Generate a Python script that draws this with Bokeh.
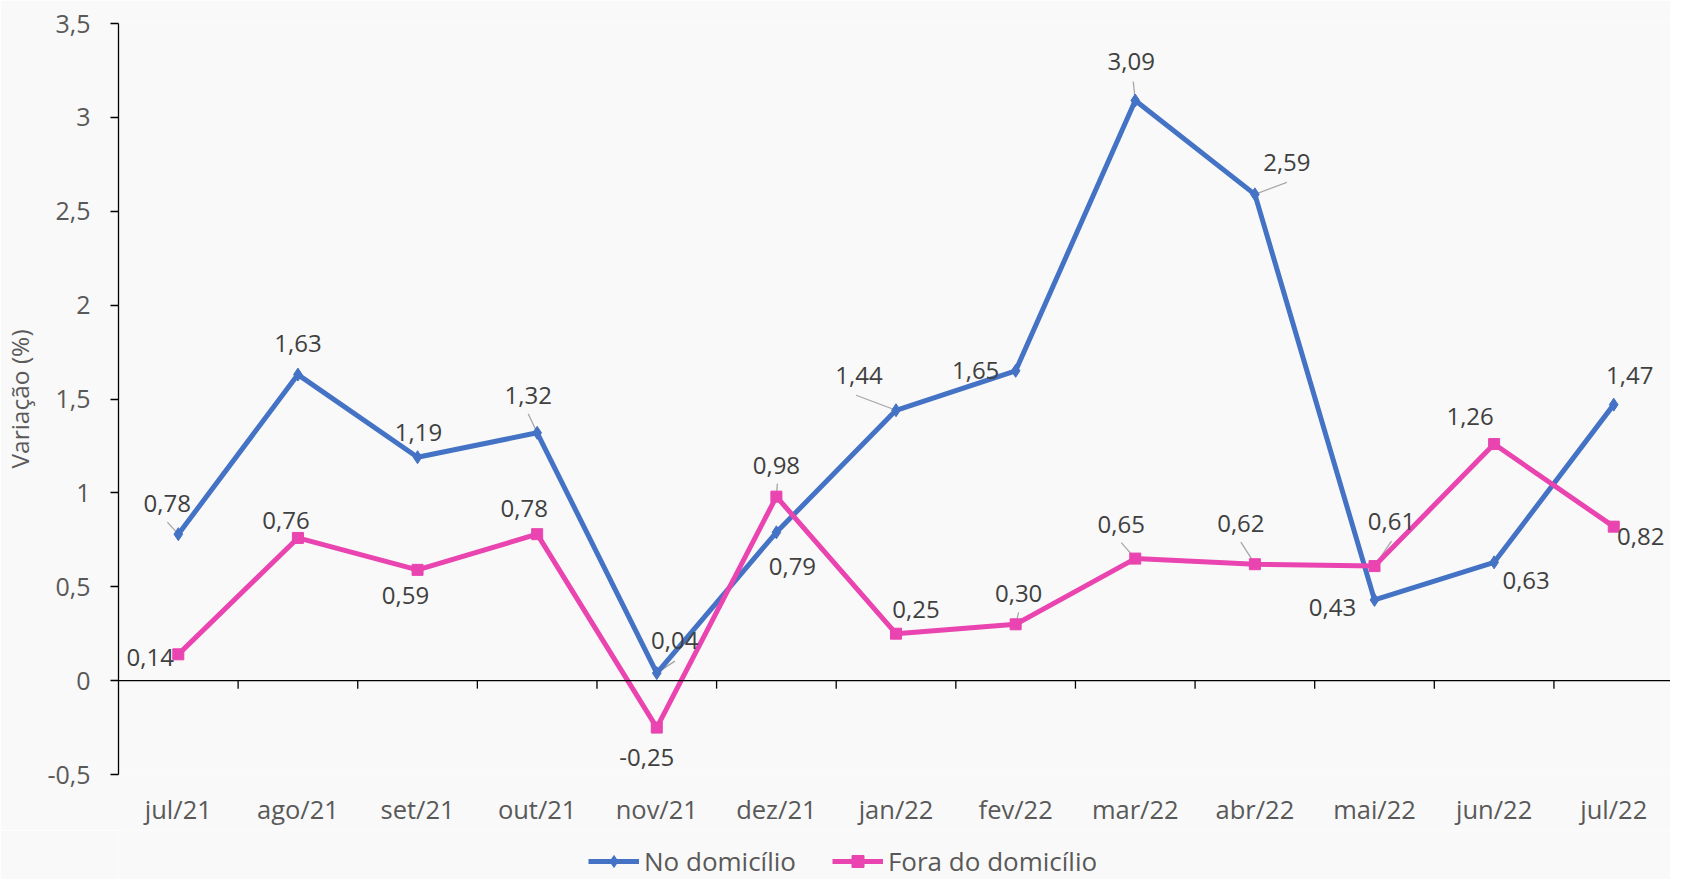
from bokeh.plotting import figure
from bokeh.layouts import column
from bokeh.models import (Range1d, LinearAxis, FixedTicker, Span, Legend, LegendItem,
                          ColumnDataSource)
from bokeh.core.properties import value
from bokeh.embed import file_html
from bokeh.resources import INLINE

# ---------------- data ----------------
months = ["jul/21", "ago/21", "set/21", "out/21", "nov/21", "dez/21", "jan/22",
          "fev/22", "mar/22", "abr/22", "mai/22", "jun/22", "jul/22"]
no_domicilio = [0.78, 1.63, 1.19, 1.32, 0.04, 0.79, 1.44, 1.65, 3.09, 2.59, 0.43, 0.63, 1.47]
fora_domicilio = [0.14, 0.76, 0.59, 0.78, -0.25, 0.98, 0.25, 0.30, 0.65, 0.62, 0.61, 1.26, 0.82]
y_ticks = [-0.5, 0, 0.5, 1, 1.5, 2, 2.5, 3, 3.5]
series_names = ["No domicílio", "Fora do domicílio"]

# label placement (pixels, x right / y up, relative to point)
blue_lbl_dx = [-11, 0, 1, -9, 18, 16, -37, -40, -4, 32, -42, 32, 16]
blue_lbl_dy = [31, 31, 25, 37, 33, -34, 35, 0, 39, 32, -8, -18, 29]
blue_lead = {0: (-11, 12), 3: (-9, 19), 4: (18, 12), 6: (-40, 15), 8: (-2, 19), 9: (32, 12)}
pink_lbl_dx = [-28, -12, -12, -13, -10, 0, 20, 3, -14, -14, 17, -24, 27]
pink_lbl_dy = [-3, 17, -26, 26, -30, 31, 24, 31, 34, 41, 45, 28, -10]
pink_lead = {5: (1, 13), 7: (3, 12), 8: (-14, 16), 9: (-14, 22), 10: (17, 25)}

# ---------------- layout ----------------
FIG_W = 1670
MAIN_H, LEG_H = 830, 49
BORDER_L, BORDER_T, BORDER_B = 115, 23, 56
FRAME_W = FIG_W - BORDER_L
FRAME_H = MAIN_H - BORDER_T - BORDER_B
CAT_PX = 119.85
X_END = FRAME_W / CAT_PX
Y0, Y1 = -0.5, 3.5
PX_X = CAT_PX
PX_Y = FRAME_H / (Y1 - Y0)

BLUE = "#4472C4"
PINK = "#E944AF"
BG = "#F9F9F9"
FONT = "Open Sans"
TICK_COL = "#595959"
LBL_COL = "#404040"

p = figure(width=FIG_W, height=MAIN_H, output_backend="svg", toolbar_location=None,
           x_range=Range1d(0, X_END), y_range=Range1d(Y0, Y1),
           x_axis_location=None, y_axis_location=None,
           min_border_left=BORDER_L, min_border_right=0, min_border_top=BORDER_T,
           min_border_bottom=BORDER_B)
p.background_fill_color = BG
p.border_fill_color = BG
p.outline_line_color = None
p.xgrid.visible = False
p.ygrid.visible = False

xs = [i + 0.5 for i in range(len(months))]

# y axis
yax = LinearAxis(ticker=FixedTicker(ticks=y_ticks))
yax.major_label_overrides = {t: (f"{t:g}".replace(".", ",")) for t in y_ticks}
yax.axis_label = "Variação (%)"
yax.axis_label_text_font = FONT
yax.axis_label_text_font_size = "24.5px"
yax.axis_label_text_font_style = "normal"
yax.axis_label_text_color = TICK_COL
yax.axis_label_standoff = 8
yax.major_label_text_font = FONT
yax.major_label_text_font_size = "25px"
yax.major_label_text_color = TICK_COL
yax.major_label_standoff = 20
yax.axis_line_color = "black"
yax.axis_line_width = 1.3
yax.major_tick_line_color = "black"
yax.major_tick_line_width = 1.3
yax.major_tick_out = 8
yax.major_tick_in = 0
yax.minor_tick_line_color = None
p.add_layout(yax, "left")

# x axis (labels only, at the bottom)
xax = LinearAxis(ticker=FixedTicker(ticks=xs))
xax.major_label_overrides = {x: m for x, m in zip(xs, months)}
xax.major_label_text_font = FONT
xax.major_label_text_font_size = "25.5px"
xax.major_label_text_color = TICK_COL
xax.major_label_standoff = 17
xax.major_tick_out = 0
xax.major_tick_in = 0
xax.axis_line_color = None
xax.major_tick_line_color = None
xax.minor_tick_line_color = None
p.add_layout(xax, "below")

# zero line with category boundary ticks
p.add_layout(Span(location=0, dimension="width", line_color="black", line_width=1.3))
bx = list(range(1, len(months)))
p.segment(x0=bx, y0=[0] * len(bx), x1=bx, y1=[-8 / PX_Y] * len(bx),
          line_color="black", line_width=1.3)

# leader lines
def leaders(vals, lead):
    x0, y0, x1, y1 = [], [], [], []
    for i, (dx, dy) in lead.items():
        x0.append(xs[i]); y0.append(vals[i])
        x1.append(xs[i] + dx / PX_X); y1.append(vals[i] + dy / PX_Y)
    return dict(x0=x0, y0=y0, x1=x1, y1=y1)

p.segment(source=ColumnDataSource(leaders(no_domicilio, blue_lead)), x0="x0", y0="y0",
          x1="x1", y1="y1", line_color="#A6A6A6", line_width=1.3)
p.segment(source=ColumnDataSource(leaders(fora_domicilio, pink_lead)), x0="x0", y0="y0",
          x1="x1", y1="y1", line_color="#A6A6A6", line_width=1.3)

# series
p.line(xs, no_domicilio, line_color=BLUE, line_width=5)
p.scatter(xs, no_domicilio, marker="diamond", size=13, fill_color=BLUE, line_color=BLUE)
p.line(xs, fora_domicilio, line_color=PINK, line_width=5)
p.scatter(xs, fora_domicilio, marker="square", size=11, fill_color=PINK, line_color=PINK)

def fmt(v):
    return f"{v:.2f}".replace(".", ",")

for vals, dxs, dys in ((no_domicilio, blue_lbl_dx, blue_lbl_dy),
                       (fora_domicilio, pink_lbl_dx, pink_lbl_dy)):
    src = ColumnDataSource(dict(x=xs, y=vals, t=[fmt(v) for v in vals],
                                dx=dxs, dy=[-d for d in dys]))
    p.text(x="x", y="y", text="t", x_offset="dx", y_offset="dy", source=src,
           text_font=value(FONT), text_font_size="24px", text_color=LBL_COL,
           text_align="center", text_baseline="middle")

# ---------------- legend strip ----------------
pl2 = figure(width=FIG_W, height=LEG_H, output_backend="svg", toolbar_location=None,
             x_range=Range1d(0, 1), y_range=Range1d(0, 1),
             x_axis_location=None, y_axis_location=None,
             min_border_left=0, min_border_right=0, min_border_top=0, min_border_bottom=0)
pl2.background_fill_color = BG
pl2.border_fill_color = BG
pl2.outline_line_color = None
pl2.grid.visible = False
# series glyphs placed off-range: only their legend swatches are seen here
lb = pl2.line(x=no_domicilio[:2], y=[-5, -5], line_color=BLUE, line_width=5)
mb = pl2.scatter(x=no_domicilio[:1], y=[-5], marker="diamond", size=13,
                 fill_color=BLUE, line_color=BLUE)
lp = pl2.line(x=fora_domicilio[:2], y=[-5, -5], line_color=PINK, line_width=5)
mp = pl2.scatter(x=fora_domicilio[:1], y=[-5], marker="square", size=11,
                 fill_color=PINK, line_color=PINK)

legend = Legend(items=[LegendItem(label=series_names[0], renderers=[lb, mb]),
                       LegendItem(label=series_names[1], renderers=[lp, mp])],
                location=(470, 0), orientation="horizontal",
                glyph_width=51, glyph_height=30, label_height=30, label_standoff=5,
                spacing=36, padding=0, margin=0,
                label_text_font=FONT, label_text_font_size="26px",
                label_text_color=TICK_COL, border_line_color=None,
                background_fill_alpha=0)
pl2.add_layout(legend, "center")

layout = column(p, pl2, spacing=0)
open("out.html", "w").write(file_html(layout, INLINE))
